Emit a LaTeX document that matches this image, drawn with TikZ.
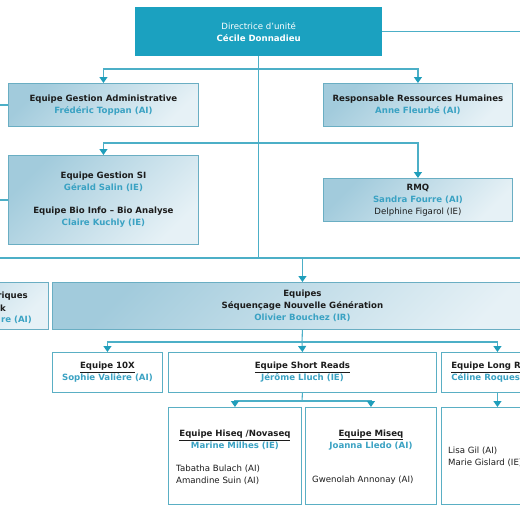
\documentclass[tikz,border=0pt]{standalone}
\usepackage{fontspec}
\setmainfont{DejaVu Sans}
\usetikzlibrary{arrows.meta, positioning, calc}
\definecolor{unitteal}{HTML}{1BA1C0}
\definecolor{linkteal}{HTML}{4CAFC7}
\definecolor{arrowteal}{HTML}{1F9EBB}
\definecolor{boxborder}{HTML}{6AAEC3}
\definecolor{teamborder}{HTML}{5AAFC4}
\definecolor{shadetop}{HTML}{A2CBDC}
\definecolor{shadebot}{HTML}{E6F1F6}
\definecolor{nameteal}{HTML}{3AA2C3}
\definecolor{textdark}{HTML}{1C1C1C}

\newcommand{\staff}[1]{{\color{nameteal}\bfseries #1}}
\newcommand{\head}[1]{{\bfseries #1}}
\newcommand{\uhead}[1]{{\bfseries\underline{#1}}}

\begin{document}
\begin{tikzpicture}[x=1pt, y=-1pt, font=\fontsize{8.6}{12}\selectfont, text=textdark,
    >={Triangle[width=8pt,length=6pt,color=arrowteal]}]
  % Box Styles
  \tikzstyle{unitbox} = [fill=unitteal, text=white, minimum width=247pt, minimum height=49pt,
    align=center, inner sep=0pt, anchor=north west]
  \tikzstyle{shadebox} = [draw=boxborder, line width=0.9pt, top color=shadetop, bottom color=shadebot,
    shading angle=45, align=center, inner sep=0pt, anchor=north west]
  \tikzstyle{teambox} = [draw=teamborder, line width=0.9pt, fill=white, align=center,
    inner sep=0pt, anchor=north west]
  \tikzstyle{caption} = [align=center, inner sep=0pt]
  \tikzstyle{members} = [align=left, inner sep=0pt, anchor=west]
  \tikzstyle{link} = [draw=linkteal, line width=1.1pt]

  \fill[white] (0,0) rectangle (520,520);
  \useasboundingbox (0,0) rectangle (520,520);
  \clip (0,0) rectangle (520,520);
  \coordinate (edgeL) at (0,0);
  \coordinate (edgeR) at (520,0);

  % Direction
  \node[unitbox] (dir) at (135,7)
    {Directrice d’unité\\\head{Cécile Donnadieu}};

  % Support teams
  \node[shadebox, minimum width=190pt, minimum height=43pt] (admin) at (8,83)
    {\head{Equipe Gestion Administrative}\\\staff{Frédéric Toppan (AI)}};
  \node[shadebox, minimum width=189pt, minimum height=43pt] (rh) at (323,83)
    {\head{Responsable Ressources Humaines}\\\staff{Anne Fleurbé (AI)}};
  \node[shadebox, minimum width=190pt, minimum height=89pt] (gsi) at (8,155)
    {\head{Equipe Gestion SI}\\\staff{Gérald Salin (IE)}\\[11pt]
     \head{Equipe Bio Info – Bio Analyse}\\\staff{Claire Kuchly (IE)}};
  \node[shadebox, minimum width=189pt, minimum height=43pt] (rmq) at (323,178)
    {\head{RMQ}\\\staff{Sandra Fourre (AI)}\\Delphine Figarol (IE)};

  % Platforms row
  \node[shadebox, minimum width=198pt, minimum height=47pt] (outils) at (-150,282) {};
  \node[inner sep=0pt, anchor=east] (outilsa) at (28,296) {\head{riques}};
  \node[inner sep=0pt, anchor=east] (outilsb) at (6,308) {\head{k}};
  \node[inner sep=0pt, anchor=east] (outilsc) at (32,320) {\staff{re (AI)}};
  \node[shadebox, minimum width=500pt, minimum height=47pt] (ngs) at (52,282)
    {\head{Equipes}\\\head{Séquençage Nouvelle Génération}\\\staff{Olivier Bouchez (IR)}};

  % NGS teams
  \node[teambox, minimum width=110pt, minimum height=40pt] (tenx) at (52,352)
    {\uhead{Equipe 10X}\\\staff{Sophie Valière (AI)}};
  \node[teambox, minimum width=268pt, minimum height=40pt] (short) at (168,352)
    {\uhead{Equipe Short Reads}\\\staff{Jérôme Lluch (IE)}};
  \node[teambox, minimum width=112pt, minimum height=40pt, align=left] (long) at (441,352)
    {\uhead{Equipe Long Reads}\\\staff{Céline Roques}};

  % Short / long read sub-teams
  \node[teambox, minimum width=133pt, minimum height=97pt] (hiseq) at (168,407) {};
  \node[teambox, minimum width=131pt, minimum height=97pt] (miseq) at (305,407) {};
  \node[teambox, minimum width=112pt, minimum height=97pt] (longsub) at (441,407) {};

  \node[caption] (hiseqhead) at ($(hiseq.north)+(0,33)$)
    {\uhead{Equipe Hiseq /Novaseq}\\\staff{Marine Milhes (IE)}};
  \node[members] (hiseqstaff) at ($(hiseq.north west)+(8,68)$)
    {Tabatha Bulach (AI)\\Amandine Suin (AI)};
  \node[caption] (miseqhead) at ($(miseq.north)+(0,33)$)
    {\uhead{Equipe Miseq}\\\staff{Joanna Lledo (AI)}};
  \node[members] (miseqstaff) at ($(miseq.north west)+(7,73)$)
    {Gwenolah Annonay (AI)};
  \node[members] (longstaff) at ($(longsub.north west)+(7,50)$)
    {Lisa Gil (AI)\\Marie Gislard (IE)};

  % Connecting lines
  \coordinate (supbus) at (258.5,69);
  \coordinate (sibus) at (258.5,143);
  \coordinate (ngsbus) at (0,258);
  \coordinate (teambus) at (302,342);
  \coordinate (shortbus) at (302,401);

  \draw[link] (dir.south) -- (dir.south |- ngsbus);
  \draw[link] (ngsbus) -- (ngsbus -| edgeR);
  \draw[link] (dir.east) -- (dir.east -| edgeR);
  \draw[link, ->] (supbus) -| (admin.north);
  \draw[link, ->] (supbus) -| (rh.north);
  \draw[link, ->] (sibus) -| (gsi.north);
  \draw[link, ->] (sibus) -| (rmq.north);
  \draw[link] (admin.west) -- (admin.west -| edgeL);
  \draw[link] (gsi.west) -- (gsi.west -| edgeL);
  \draw[link, ->] (ngs.north |- ngsbus) -- (ngs.north);

  \draw[link] (ngs.south) -- (teambus);
  \draw[link, ->] (teambus) -| (tenx.north);
  \draw[link, ->] (teambus) -- (short.north);
  \draw[link, ->] (teambus) -| (long.north);
  \draw[link] (short.south) -- (shortbus);
  \draw[link, ->] (shortbus) -| (hiseq.north);
  \draw[link, ->] (shortbus) -| (miseq.north);
  \draw[link, ->] (long.south) -- (longsub.north);
\end{tikzpicture}
\end{document}
